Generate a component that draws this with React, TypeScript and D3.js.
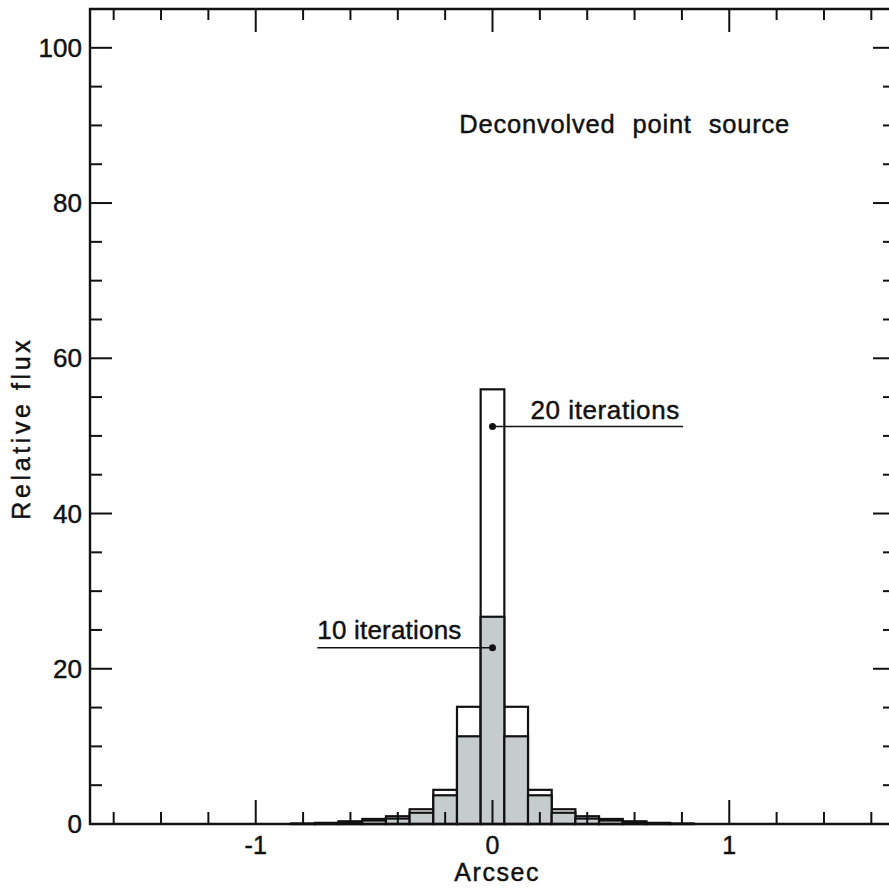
import * as d3 from 'd3';
import React from 'react';

// bin centres (arcsec) and relative flux for each run
const binCenters = [-0.8, -0.7, -0.6, -0.5, -0.4, -0.3, -0.2, -0.1, 0, 0.1, 0.2, 0.3, 0.4, 0.5, 0.6, 0.7, 0.8];
const iter20 = [0.05, 0.15, 0.35, 0.65, 1.0, 1.9, 4.4, 15.1, 56.0, 15.1, 4.4, 1.9, 1.0, 0.65, 0.35, 0.15, 0.05];
const iter10 = [0.03, 0.1, 0.25, 0.45, 0.7, 1.45, 3.7, 11.3, 26.7, 11.3, 3.7, 1.45, 0.7, 0.45, 0.25, 0.1, 0.03];
const binWidth = 0.1;

const xMinorTicks = [-1.6, -1.4, -1.2, -0.8, -0.6, -0.4, -0.2, 0.2, 0.4, 0.6, 0.8, 1.2, 1.4, 1.6];
const xMajorTicks = [-1, 0, 1];
const xTickLabels = ['-1', '0', '1'];
const yMinorTicks = [5, 10, 15, 25, 30, 35, 45, 50, 55, 65, 70, 75, 85, 90, 95];
const yMajorTicks = [0, 20, 40, 60, 80, 100];

const FONT = '"Liberation Sans", Arial, sans-serif';
const GRAY = '#c6cbcb';
const INK = '#111';

// slightly heavier text, like the printed original
const txt = { fontFamily: FONT, fill: INK, stroke: INK, strokeWidth: 0.45 };

function App() {
  const width = 889;
  const height = 889;
  const x = d3.scaleLinear().domain([-1.7, 1.7]).range([90, 895]);
  const y = d3.scaleLinear().domain([0, 105]).range([824, 9]);
  const x0 = x.range()[0];
  const x1 = x.range()[1];
  const yTop = y(105);
  const yBot = y(0);

  const bar = (vals: number[], fill: string, key: string) =>
    binCenters.map((c, i) => (
      <rect
        key={key + i}
        x={x(c - binWidth / 2)}
        y={y(vals[i])}
        width={x(c + binWidth / 2) - x(c - binWidth / 2)}
        height={yBot - y(vals[i])}
        fill={fill}
        stroke={INK}
        strokeWidth={2.2}
      />
    ));

  return (
    <svg width={width} height={height} style={{ position: 'absolute', left: 0, top: 0, background: '#fff' }}>
      <rect width={width} height={height} fill="#fff" />
      {bar(iter20, '#fff', 'a')}
      {bar(iter10, GRAY, 'b')}

      {/* frame */}
      <path
        d={`M${x1},${yTop}H${x0}V${yBot}H${x1}Z`}
        fill="none"
        stroke={INK}
        strokeWidth={2.4}
      />

      {/* x ticks, bottom and top, inward */}
      {xMinorTicks.map((t) => (
        <g key={'xm' + t} stroke={INK} strokeWidth={2}>
          <line x1={x(t)} x2={x(t)} y1={yBot} y2={yBot - 12} />
          <line x1={x(t)} x2={x(t)} y1={yTop} y2={yTop + 11} />
        </g>
      ))}
      {xMajorTicks.map((t, i) => (
        <g key={'xM' + t}>
          <line x1={x(t)} x2={x(t)} y1={yBot} y2={yBot - 24} stroke={INK} strokeWidth={2} />
          <line x1={x(t)} x2={x(t)} y1={yTop} y2={yTop + 23} stroke={INK} strokeWidth={2} />
          <text x={x(t)} y={yBot + 30} textAnchor="middle" fontSize={25} {...txt}>
            {xTickLabels[i]}
          </text>
        </g>
      ))}

      {/* y ticks, left and right, inward */}
      {yMinorTicks.map((t) => (
        <g key={'ym' + t} stroke={INK} strokeWidth={2}>
          <line x1={x0} x2={x0 + 12} y1={y(t)} y2={y(t)} />
          <line x1={x1} x2={x1 - 12} y1={y(t)} y2={y(t)} />
        </g>
      ))}
      {yMajorTicks.map((t) => (
        <g key={'yM' + t}>
          <line x1={x0} x2={x0 + 22} y1={y(t)} y2={y(t)} stroke={INK} strokeWidth={2} />
          <line x1={x1} x2={x1 - 22} y1={y(t)} y2={y(t)} stroke={INK} strokeWidth={2} />
          <text x={x0 - 8} y={y(t) + 9} textAnchor="end" fontSize={26} {...txt}>
            {t}
          </text>
        </g>
      ))}

      {/* axis titles */}
      <text x={x(0.02)} y={881} textAnchor="middle" fontSize={25} letterSpacing={1.6} {...txt}>
        Arcsec
      </text>
      <text
        transform={`translate(30,${y(51)}) rotate(-90)`}
        textAnchor="middle"
        fontSize={25}
        letterSpacing={3.6}
        {...txt}
      >
        Relative flux
      </text>

      {/* annotations */}
      <text x={x(-0.14)} y={y(89)} fontSize={25.5} letterSpacing={0.8} wordSpacing={9} {...txt}>
        Deconvolved point source
      </text>

      <line x1={x(0)} x2={x(0.805)} y1={y(51.2)} y2={y(51.2)} stroke={INK} strokeWidth={1.5} />
      <circle cx={x(0)} cy={y(51.2)} r={3.5} fill={INK} />
      <text x={x(0.16)} y={y(52.2)} fontSize={26} letterSpacing={0.6} {...txt}>
        20 iterations
      </text>

      <line x1={x(-0.74)} x2={x(0)} y1={y(22.7)} y2={y(22.7)} stroke={INK} strokeWidth={1.5} />
      <circle cx={x(0)} cy={y(22.7)} r={3.5} fill={INK} />
      <text x={x(-0.74)} y={y(23.8)} fontSize={26} letterSpacing={0.2} {...txt}>
        10 iterations
      </text>
    </svg>
  );
}

export default App;
